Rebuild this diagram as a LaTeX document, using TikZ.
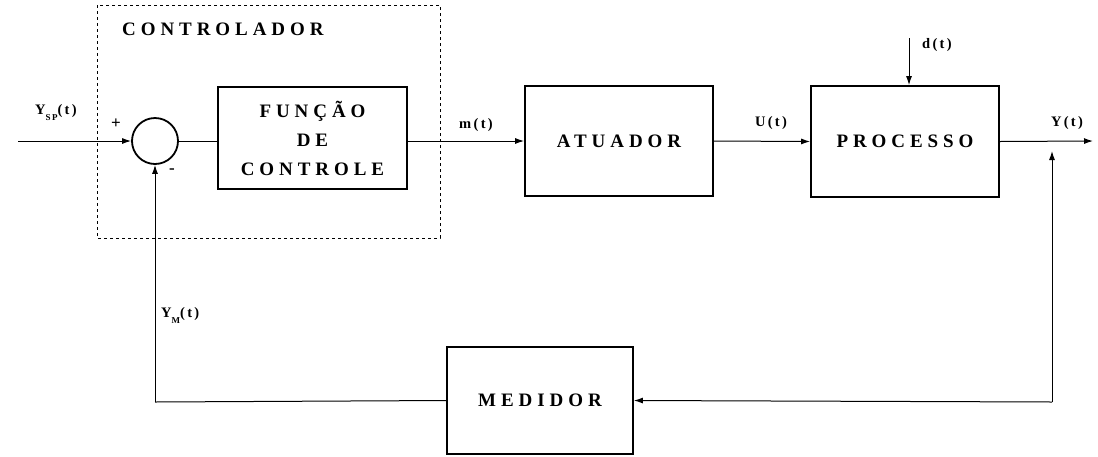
\documentclass[tikz,border=0pt]{standalone}
\usepackage{fontspec}
\usetikzlibrary{arrows.meta}
\newfontfamily\blockfont[LetterSpace=26]{Liberation Serif}
\newfontfamily\labelfont[LetterSpace=16]{Liberation Serif}
\tikzset{
  blockfnt/.style={font=\blockfont\bfseries\fontsize{19}{23}\selectfont},
  blockbox/.style={draw, line width=1.8pt, minimum width=#1, blockfnt, align=center, inner sep=0pt},
  sigline/.style={line width=1pt},
  sigarrow/.style={line width=1pt, -{Latex[length=9pt,width=6pt]}},
  siglabel/.style={font=\labelfont\bfseries\fontsize{14.5}{16}\selectfont, inner sep=0pt},
  signfnt/.style={font=\labelfont\bfseries\fontsize{17}{18}\selectfont, inner sep=0pt},
}
\begin{document}
\begin{tikzpicture}[x=1pt,y=-1pt]
\useasboundingbox (0,0) rectangle (1098,456);

% controller boundary
\draw[line width=0.9pt, dash pattern=on 3pt off 3pt] (97,5) rectangle (440,238);
\node[blockfnt, anchor=west, inner sep=0pt] (ctl) at (122,29) {CONTROLADOR};

% blocks
\node[draw, circle, line width=1.8pt, minimum size=46pt, inner sep=0pt] (sum) at (155,141) {};
\node[blockbox=189pt, minimum height=102pt] (func) at (312.5,138)
  {FUNÇÃO\\[6pt]DE\\[6pt]CONTROLE};
\node[blockbox=188pt, minimum height=110pt] (atu) at (619,141) {ATUADOR};
\node[blockbox=188pt, minimum height=111pt] (proc) at (905,141.5) {PROCESSO};
\node[blockbox=186pt, minimum height=107pt] (med) at (540,400.5) {MEDIDOR};

% reference input
\coordinate (ysp) at (18,141);
\draw[sigarrow] (ysp) -- (sum.west);
\node[siglabel, anchor=west] (yspl) at (35,113) {Y\raisebox{-6pt}{\fontsize{9}{10}\selectfont SP}(t)};
\node[signfnt] (plus) at (116,124) {+};
\node[signfnt] (minus) at (172,171) {-};

% forward path
\draw[sigline] (sum.east) -- (sum.east -| func.west);
\draw[sigarrow] (func.east |- atu.west) -- (atu.west);
\node[siglabel] (ml) at (476,125) {m(t)};
\draw[sigarrow] (atu.east) -- (proc.west);
\node[siglabel] (ul) at (771,123) {U(t)};

% disturbance
\coordinate (dtop) at (909,38);
\draw[sigarrow] (dtop) -- (dtop |- proc.north);
\node[siglabel, anchor=west] (dl) at (922,45) {d(t)};

% output
\coordinate (yout) at (1093,141);
\draw[sigarrow] (proc.east) -- (yout);
\node[siglabel] (yl) at (1067,123) {Y(t)};

% measurement branch
\coordinate (tk) at (1052,402);
\coordinate (tktop) at (1052,151);
\draw[sigarrow] (tk) -- (tktop);
\draw[sigarrow] (tk) -- (med.east);

% feedback to the summing junction
\coordinate (fbc) at (155,402);
\draw[sigline] (med.west) -- (fbc);
\draw[sigarrow] (fbc) -- (sum.south);
\node[siglabel, anchor=west] (yml) at (161,315) {Y\raisebox{-6pt}{\fontsize{9}{10}\selectfont M}(t)};
\end{tikzpicture}
\end{document}
